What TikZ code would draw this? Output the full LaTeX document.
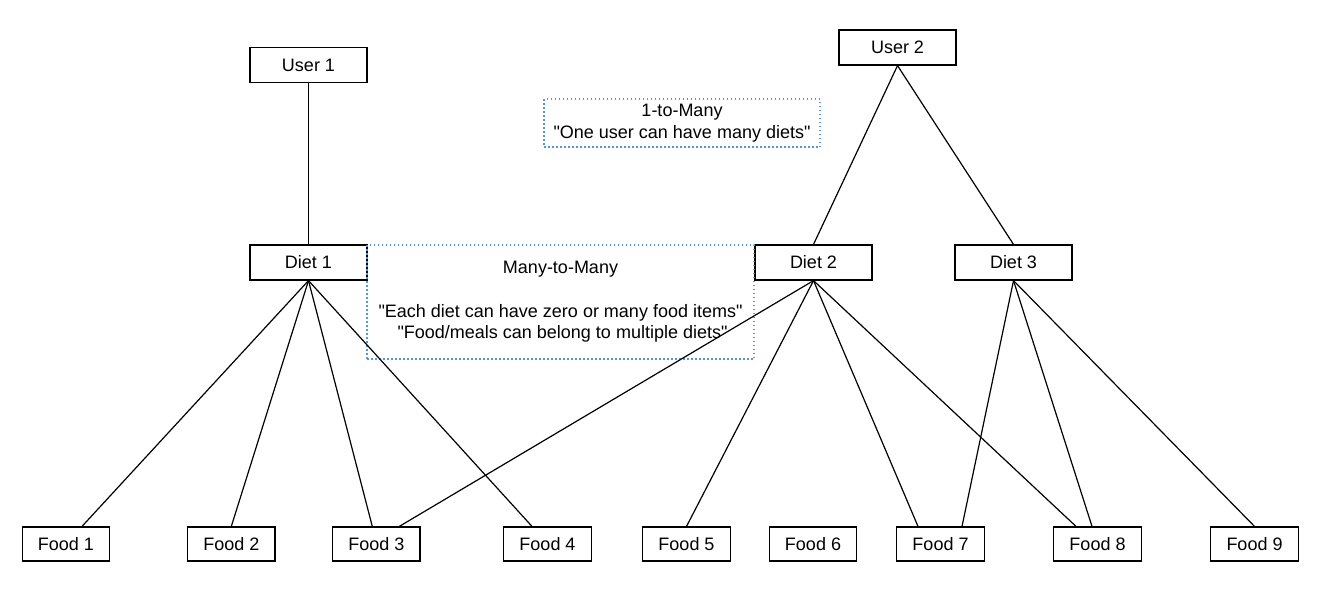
\documentclass[tikz,border=0pt]{standalone}
\usepackage{fontspec}
\setmainfont{Liberation Sans}[Ligatures=TeXOff]
\definecolor{noteblue}{RGB}{80,150,235}

\begin{document}
\begin{tikzpicture}[x=1pt,y=-1pt,
  entity/.style={draw, line width=1.2pt, minimum width=117pt, minimum height=35pt, inner sep=0pt, font=\fontsize{18}{21.6}\selectfont},
  food/.style={entity, minimum width=87.5pt, minimum height=34pt},
  note/.style={draw=noteblue, line width=1.3pt, dash pattern=on 1.5pt off 2.5pt, align=center, inner sep=0pt, font=\fontsize{18}{21.6}\selectfont},
  link/.style={line width=1.2pt}]
\useasboundingbox (0,0) rectangle (1321,597);

\node[entity] (user1) at (308.5,65) {User 1};
\node[entity] (user2) at (897.5,47.5) {User 2};

\node[entity] (diet1) at (308.5,262.5) {Diet 1};
\node[entity] (diet2) at (813.5,262.5) {Diet 2};
\node[entity] (diet3) at (1013.5,262.5) {Diet 3};

\node[food] (food1) at (66,544) {Food 1};
\node[food] (food2) at (231.3,544) {Food 2};
\node[food] (food3) at (376.3,544) {Food 3};
\node[food] (food4) at (547.5,544) {Food 4};
\node[food] (food5) at (686.5,544) {Food 5};
\node[food] (food6) at (813,544) {Food 6};
\node[food] (food7) at (940.5,544) {Food 7};
\node[food] (food8) at (1097.5,544) {Food 8};
\node[food] (food9) at (1254.5,544) {Food 9};

\node[note, minimum width=276pt, minimum height=48pt] (onemany) at (682,123) {1-to-Many\\"One user can have many diets"};
\node[note, minimum width=387pt, minimum height=114pt] (manymany) at (560.5,302) {Many-to-Many\\[21.6pt]"Each diet can have zero or many food items"\\\hspace*{4pt}"Food/meals can belong to multiple diets"};

\draw[link] (user1.south) -- (diet1.north);
\draw[link] (user2.south) -- (diet2.north);
\draw[link] (user2.south) -- (diet3.north);

\draw[link] (diet1.south) -- ([xshift=16pt]food1.north);
\draw[link] (diet1.south) -- (food2.north);
\draw[link] (diet1.south) -- ([xshift=-4pt]food3.north);
\draw[link] (diet1.south) -- ([xshift=-15.5pt]food4.north);

\draw[link] (diet2.south) -- ([xshift=23pt]food3.north);
\draw[link] (diet2.south) -- (food5.north);
\draw[link] (diet2.south) -- ([xshift=-22.5pt]food7.north);
\draw[link] (diet2.south) -- ([xshift=-21.5pt]food8.north);

\draw[link] (diet3.south) -- ([xshift=21.5pt]food7.north);
\draw[link] (diet3.south) -- ([xshift=-5.5pt]food8.north);
\draw[link] (diet3.south) -- (food9.north);

\end{tikzpicture}
\end{document}
